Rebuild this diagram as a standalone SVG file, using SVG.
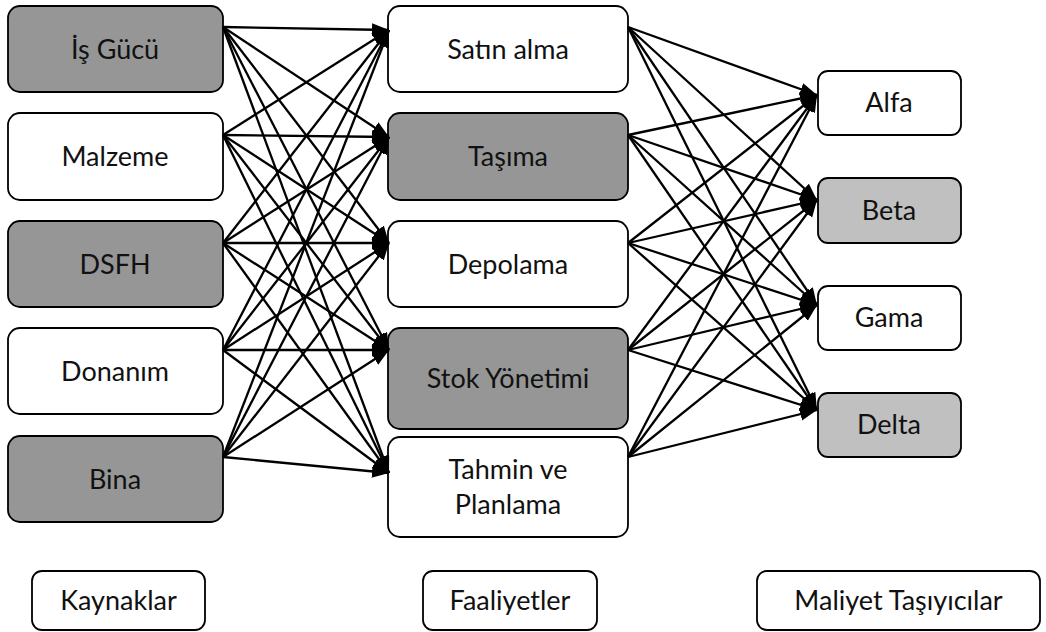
<svg xmlns="http://www.w3.org/2000/svg" width="1046" height="632" viewBox="0 0 1046 632">
  <defs>
    <marker id="arrow" markerUnits="userSpaceOnUse" markerWidth="18" markerHeight="14" refX="17" refY="6.5" orient="auto">
      <path d="M0,0 L17,6.5 L0,13 z" fill="#000"/>
    </marker>
  </defs>
  <style>
    .box{stroke:#000;stroke-width:1.8}
    .dark{fill:#969696}
    .light{fill:#c0c0c0}
    .white{fill:#fff}
    .lbl{font-family:Lato,"Open Sans",sans-serif;font-size:27px;fill:#111;text-anchor:middle}
    #connectors line{stroke:#000;stroke-width:2.3;marker-end:url(#arrow)}
  </style>
  <rect width="1046" height="632" fill="#fff"/>

  <!-- Kaynaklar column -->
  <g id="is-gucu"><rect class="box dark" x="8" y="6" width="215" height="86" rx="12"/><text class="lbl" x="115" y="59">İş Gücü</text></g>
  <g id="malzeme"><rect class="box white" x="8" y="113" width="215" height="87" rx="12"/><text class="lbl" x="115" y="166">Malzeme</text></g>
  <g id="dsfh"><rect class="box dark" x="8" y="221" width="215" height="86" rx="12"/><text class="lbl" x="115" y="274">DSFH</text></g>
  <g id="donanim"><rect class="box white" x="8" y="328" width="215" height="86" rx="12"/><text class="lbl" x="115" y="381">Donanım</text></g>
  <g id="bina"><rect class="box dark" x="8" y="436" width="215" height="86" rx="12"/><text class="lbl" x="115" y="489">Bina</text></g>

  <!-- Faaliyetler column -->
  <g id="satin-alma"><rect class="box white" x="388" y="6" width="240" height="86" rx="12"/><text class="lbl" x="508" y="59">Satın alma</text></g>
  <g id="tasima"><rect class="box dark" x="388" y="113" width="240" height="87" rx="12"/><text class="lbl" x="508" y="166">Taşıma</text></g>
  <g id="depolama"><rect class="box white" x="388" y="221" width="240" height="86" rx="12"/><text class="lbl" x="508" y="274">Depolama</text></g>
  <g id="stok-yonetimi"><rect class="box dark" x="388" y="328" width="240" height="101" rx="12"/><text class="lbl" x="508" y="388">Stok Yönetimi</text></g>
  <g id="tahmin-planlama"><rect class="box white" x="388" y="437" width="240" height="100" rx="12"/><text class="lbl" x="508" y="479">Tahmin ve</text><text class="lbl" x="508" y="514">Planlama</text></g>

  <!-- Maliyet taşıyıcıları column -->
  <g id="alfa"><rect class="box white" x="818" y="71" width="143" height="64" rx="10"/><text class="lbl" x="889" y="112">Alfa</text></g>
  <g id="beta"><rect class="box light" x="818" y="178" width="143" height="65" rx="10"/><text class="lbl" x="889" y="220">Beta</text></g>
  <g id="gama"><rect class="box white" x="818" y="286" width="143" height="64" rx="10"/><text class="lbl" x="889" y="327">Gama</text></g>
  <g id="delta"><rect class="box light" x="818" y="393" width="143" height="64" rx="10"/><text class="lbl" x="889" y="434">Delta</text></g>

  <!-- Column captions -->
  <g id="kaynaklar"><rect class="box white" x="32" y="571" width="173" height="59" rx="10"/><text class="lbl" x="118.5" y="610">Kaynaklar</text></g>
  <g id="faaliyetler"><rect class="box white" x="423" y="571" width="174" height="59" rx="10"/><text class="lbl" x="510" y="610">Faaliyetler</text></g>
  <g id="maliyet-tasiyicilar"><rect class="box white" x="757" y="571" width="283" height="59" rx="10"/><text class="lbl" x="898.5" y="610">Maliyet Taşıyıcılar</text></g>

  <!-- Connectors: every resource to every activity, every activity to every cost object -->
  <g id="connectors">
    <line x1="223" y1="27" x2="389" y2="30"/>
    <line x1="223" y1="27" x2="389" y2="137"/>
    <line x1="223" y1="27" x2="389" y2="243"/>
    <line x1="223" y1="27" x2="389" y2="350"/>
    <line x1="223" y1="27" x2="389" y2="473"/>
    <line x1="223" y1="135" x2="389" y2="30"/>
    <line x1="223" y1="135" x2="389" y2="137"/>
    <line x1="223" y1="135" x2="389" y2="243"/>
    <line x1="223" y1="135" x2="389" y2="350"/>
    <line x1="223" y1="135" x2="389" y2="473"/>
    <line x1="223" y1="243" x2="389" y2="30"/>
    <line x1="223" y1="243" x2="389" y2="137"/>
    <line x1="223" y1="243" x2="389" y2="243"/>
    <line x1="223" y1="243" x2="389" y2="350"/>
    <line x1="223" y1="243" x2="389" y2="473"/>
    <line x1="223" y1="350" x2="389" y2="30"/>
    <line x1="223" y1="350" x2="389" y2="137"/>
    <line x1="223" y1="350" x2="389" y2="243"/>
    <line x1="223" y1="350" x2="389" y2="350"/>
    <line x1="223" y1="350" x2="389" y2="473"/>
    <line x1="223" y1="457" x2="389" y2="30"/>
    <line x1="223" y1="457" x2="389" y2="137"/>
    <line x1="223" y1="457" x2="389" y2="243"/>
    <line x1="223" y1="457" x2="389" y2="350"/>
    <line x1="223" y1="457" x2="389" y2="473"/>

    <line x1="628" y1="27" x2="817" y2="95"/>
    <line x1="628" y1="27" x2="817" y2="200"/>
    <line x1="628" y1="27" x2="817" y2="305"/>
    <line x1="628" y1="27" x2="817" y2="410"/>
    <line x1="628" y1="135" x2="817" y2="95"/>
    <line x1="628" y1="135" x2="817" y2="200"/>
    <line x1="628" y1="135" x2="817" y2="305"/>
    <line x1="628" y1="135" x2="817" y2="410"/>
    <line x1="628" y1="243" x2="817" y2="95"/>
    <line x1="628" y1="243" x2="817" y2="200"/>
    <line x1="628" y1="243" x2="817" y2="305"/>
    <line x1="628" y1="243" x2="817" y2="410"/>
    <line x1="628" y1="350" x2="817" y2="95"/>
    <line x1="628" y1="350" x2="817" y2="200"/>
    <line x1="628" y1="350" x2="817" y2="305"/>
    <line x1="628" y1="350" x2="817" y2="410"/>
    <line x1="628" y1="457" x2="817" y2="95"/>
    <line x1="628" y1="457" x2="817" y2="200"/>
    <line x1="628" y1="457" x2="817" y2="305"/>
    <line x1="628" y1="457" x2="817" y2="410"/>
  </g>
</svg>
